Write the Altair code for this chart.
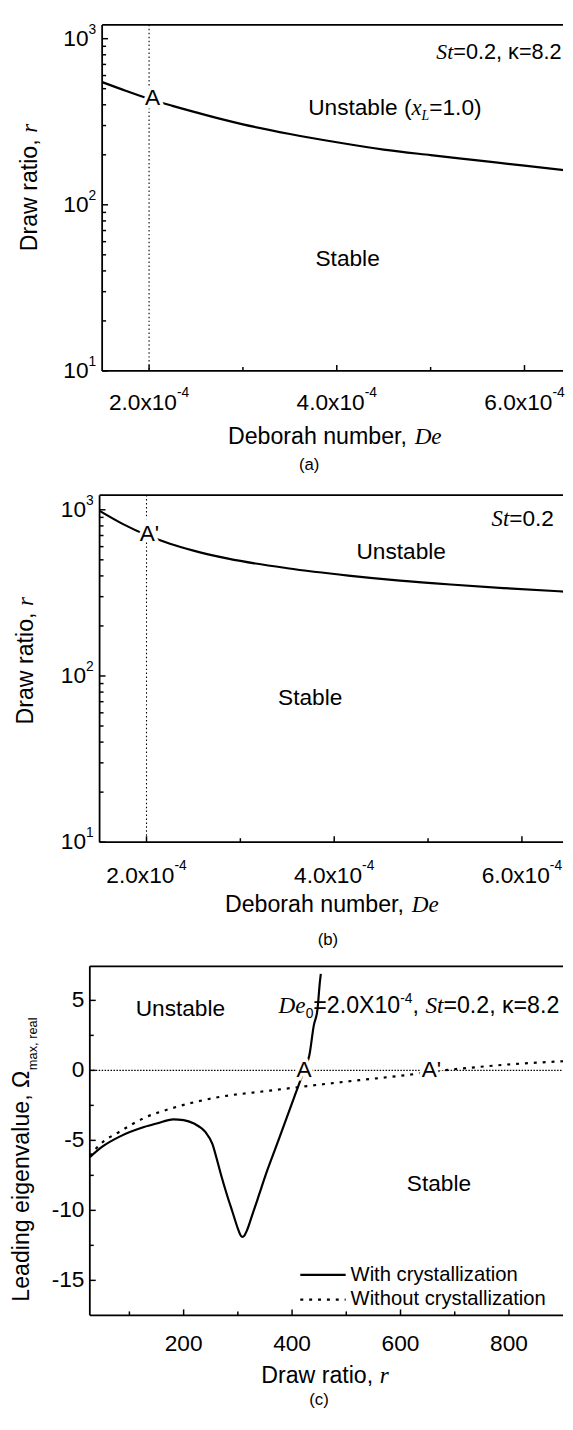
import altair as alt
import pandas as pd

SANS = "Liberation Sans"
SERIF = "Liberation Serif"
FS = 23      # tick labels / in-plot text
FT = 23.5    # axis titles

# ---------------- data ----------------
# (a) neutral stability curve, with crystallization
de_a = [1.50e-4, 1.75e-4, 2.00e-4, 2.25e-4, 2.50e-4, 2.75e-4, 3.00e-4, 3.50e-4,
        4.00e-4, 4.50e-4, 5.00e-4, 5.50e-4, 6.00e-4, 6.45e-4]
r_a = [548, 486, 434, 394, 360, 330, 305, 267, 238, 215, 199, 185, 172, 161]
# (b) neutral stability curve, without crystallization
de_b = [1.50e-4, 1.75e-4, 2.00e-4, 2.25e-4, 2.50e-4, 2.87e-4, 3.50e-4, 4.15e-4,
        4.70e-4, 5.24e-4, 5.80e-4, 6.45e-4]
r_b = [985, 820, 705, 625, 568, 508, 445, 402, 375, 355, 338, 322]
# (c) leading eigenvalue vs draw ratio
r_with = [27, 50, 81, 127, 150, 181, 200, 219, 240, 253, 263, 270, 280, 290, 300,
          304, 308, 312, 316, 326, 339, 351, 370, 390, 405, 422, 432, 440, 447, 451, 453]
om_with = [-6.2, -5.45, -4.75, -4.05, -3.8, -3.5, -3.55, -3.8, -4.4, -5.25, -6.6, -7.6,
           -8.9, -10.1, -11.3, -11.7, -11.9, -11.8, -11.5, -10.4, -8.9, -7.5, -5.5, -3.4,
           -1.8, 0.0, 1.1, 3.2, 4.4, 6.2, 6.9]
r_without = [27, 50, 81, 127, 179, 259, 359, 422, 524, 592, 650, 691, 724, 791, 850, 900]
om_without = [-6.1, -5.15, -4.4, -3.4, -2.7, -1.95, -1.45, -1.15, -0.7, -0.42, -0.15,
              0.05, 0.17, 0.4, 0.55, 0.65]

# ticks and labels
de_major = [2e-4, 4e-4, 6e-4]
de_major_lab = ["2.0x10", "4.0x10", "6.0x10"]
de_exp = "-4"
de_minor = [3e-4, 5e-4]
r_major = [10, 100, 1000]
r_major_lab = ["10", "10", "10"]
r_exp = ["1", "2", "3"]
r_minor = [20, 30, 40, 50, 60, 70, 80, 90, 200, 300, 400, 500, 600, 700, 800, 900]
c_x_major = [200, 400, 600, 800]
c_x_lab = ["200", "400", "600", "800"]
c_x_minor = [100, 300, 500, 700]
c_y_major = [-15, -10, -5, 0, 5]
c_y_lab = ["-15", "-10", "-5", "0", "5"]
c_y_minor = [-12.5, -7.5, -2.5, 2.5]
legend_labels = ["With crystallization", "Without crystallization"]

# ---------------- layout ----------------
PX0 = 91.5          # page x of plot-area left edge
W = 480
GAP = 126
HA, HB, HC = 351, 352, 354
TOP_A = 15
TOP_B = TOP_A + HA + GAP
TOP_C = TOP_B + HB + GAP
KA = 952000.0       # px per unit of De
XA = [1.5e-4 - (104 - PX0) / KA, 0]
XA[1] = XA[0] + W / KA
XB = [2e-4 - (149 - PX0) / KA, 0]
XB[1] = XB[0] + W / KA
AX_DE = 1.5e-4
YA = [10, 1211]
YB = [10, 1225]
XC = [27, 27 + W / 0.55]
YC = [-17.5, -17.5 + HC / 14.2]

ONE = pd.DataFrame({"d": [0]})

ARIAL = {' ': 278, '(': 333, ')': 333, ',': 278, '-': 333, '.': 278, '=': 584, 'X': 667,
         'x': 500, 'A': 667, 'D': 722, 'L': 556, 'S': 667, 'U': 722, 'W': 944, "'": 191,
         'a': 556, 'b': 556, 'c': 500, 'd': 556, 'e': 556, 'g': 556, 'h': 556, 'i': 222,
         'l': 222, 'm': 833, 'n': 556, 'o': 556, 'r': 333, 's': 500, 't': 278, 'u': 556,
         'v': 500, 'w': 722, 'y': 500, 'z': 500, 'κ': 500, 'Ω': 768}
for _d in "0123456789":
    ARIAL[_d] = 556
TIMES_I = {'D': 722, 'e': 444, 'S': 500, 't': 278, 'r': 389, 'x': 444, 'L': 556}


def tw(s, font, size):
    tab = TIMES_I if font == SERIF else ARIAL
    return sum(tab.get(c, 556) for c in s) * size / 1000.0


def text_px(s, x, y, size=FS, font=SANS, italic=False, align="left",
            baseline="alphabetic", angle=0, clip=False):
    kw = dict(text=s, font=font, fontSize=size, align=align, baseline=baseline,
              color="black")
    if italic:
        kw["fontStyle"] = "italic"
    if angle:
        kw["angle"] = angle
    if clip:
        kw["clip"] = True
    return alt.Chart(ONE).mark_text(**kw).encode(x=alt.value(x), y=alt.value(y))


def chain_h(pieces, x_page, y_page, top, center=False, clip=False):
    total = sum(tw(p[0], p[1], p[3]) for p in pieces)
    x = x_page - (total / 2 if center else 0)
    out = []
    for s, font, italic, size, dy in pieces:
        out.append(text_px(s.rstrip(), x - PX0, y_page - top + dy, size, font, italic,
                           clip=clip))
        x += tw(s, font, size)
    return out


def chain_v(pieces, x_page, yc_page, top):
    total = sum(tw(p[0], p[1], p[3]) for p in pieces)
    y = yc_page + total / 2
    out = []
    for s, font, italic, size, dx in pieces:
        out.append(text_px(s.rstrip(), x_page - PX0 + dx, y - top, size, font, italic,
                           angle=270))
        y -= tw(s, font, size)
    return out


def rule_px(x, y, x2=None, y2=None, width=1.8, dash=None, opacity=1.0):
    enc = dict(x=alt.value(x), y=alt.value(y))
    if x2 is not None:
        enc["x2"] = alt.value(x2)
    if y2 is not None:
        enc["y2"] = alt.value(y2)
    kw = dict(color="black", strokeWidth=width, opacity=opacity)
    if dash:
        kw["strokeDash"] = dash
    return alt.Chart(ONE).mark_rule(**kw).encode(**enc)


def halo_text(s, xv, yv, X, Y, size=FS):
    df = pd.DataFrame({"x": [xv], "y": [yv]})
    base = dict(text=s, font=SANS, fontSize=size, align="center", baseline="middle")
    h = alt.Chart(df).mark_text(color="white", stroke="white", strokeWidth=7,
                                **base).encode(x=X("x"), y=Y("y"))
    t = alt.Chart(df).mark_text(color="black", **base).encode(x=X("x"), y=Y("y"))
    return [h, t]


def log_panel(de, r, xdom, ydom, H, xlab_base):
    xs = alt.Scale(domain=xdom, nice=False, zero=False)
    ys = alt.Scale(type="log", domain=ydom, nice=False)

    def X(f):
        return alt.X(f, type="quantitative", scale=xs, axis=None)

    def Y(f):
        return alt.Y(f, type="quantitative", scale=ys, axis=None)

    ax = (AX_DE - xdom[0]) * KA
    L = []
    L.append(alt.Chart(pd.DataFrame({"De": de, "r": r})).mark_line(
        color="black", strokeWidth=2.2, clip=True, interpolate="monotone").encode(
        x=X("De"), y=Y("r")))
    L.append(alt.Chart(pd.DataFrame({"De": [2e-4]})).mark_rule(
        color="black", strokeWidth=1.1, strokeDash=[1.5, 2.5]).encode(
        x=X("De"), y=alt.value(0), y2=alt.value(H)))
    # frame
    L.append(rule_px(ax, 0, y2=H))
    L.append(rule_px(ax, H, x2=W))
    L.append(rule_px(ax, 0, x2=W))
    # ticks (inward)
    L.append(alt.Chart(pd.DataFrame({"v": de_major})).mark_rule(
        color="black", strokeWidth=1.5).encode(x=X("v"), y=alt.value(H), y2=alt.value(H - 6)))
    L.append(alt.Chart(pd.DataFrame({"v": de_minor})).mark_rule(
        color="black", strokeWidth=1.5).encode(x=X("v"), y=alt.value(H), y2=alt.value(H - 4)))
    L.append(alt.Chart(pd.DataFrame({"v": r_major})).mark_rule(
        color="black", strokeWidth=1.5).encode(y=Y("v"), x=alt.value(ax), x2=alt.value(ax + 6)))
    L.append(alt.Chart(pd.DataFrame({"v": r_minor})).mark_rule(
        color="black", strokeWidth=1.5).encode(y=Y("v"), x=alt.value(ax), x2=alt.value(ax + 4)))
    # x tick labels  (mantissa + superscript exponent)
    wm = tw(de_major_lab[0], SANS, FS)
    we = tw(de_exp, SANS, 14)
    T = wm + we
    dfl = pd.DataFrame({"v": de_major, "lab": de_major_lab, "e": [de_exp] * 3})
    L.append(alt.Chart(dfl).mark_text(font=SANS, fontSize=FS, align="left", dx=-T / 2,
                                      color="black").encode(
        x=X("v"), y=alt.value(H + xlab_base), text="lab:N"))
    L.append(alt.Chart(dfl).mark_text(font=SANS, fontSize=14, align="left",
                                      dx=-T / 2 + wm, color="black").encode(
        x=X("v"), y=alt.value(H + xlab_base - 10), text="e:N"))
    # y tick labels
    dfy = pd.DataFrame({"v": r_major, "lab": r_major_lab, "e": r_exp})
    wsup = tw("1", SANS, 14)
    L.append(alt.Chart(dfy).mark_text(font=SANS, fontSize=FS, align="right",
                                      baseline="middle", color="black").encode(
        y=Y("v"), x=alt.value(ax - 6 - wsup), text="lab:N"))
    L.append(alt.Chart(dfy).mark_text(font=SANS, fontSize=14, align="right",
                                      baseline="middle", dy=-9, color="black").encode(
        y=Y("v"), x=alt.value(ax - 6), text="e:N"))
    return L, X, Y


# ---------------- panel (a) ----------------
LA, XAe, YAe = log_panel(de_a, r_a, XA, YA, HA, 32.5)
LA.append(rule_px(8 - PX0 + 0.5, 8 - TOP_A + 0.5, x2=8 - PX0 + 1.5, width=1, opacity=0))
LA += halo_text("A", 2.036e-4, 440, XAe, YAe)
LA += chain_v([("Draw ratio, ", SANS, False, FT, 0), ("r", SERIF, True, FT, 0)], 38, 180, TOP_A)
LA += chain_h([("Deborah number, ", SANS, False, FT, 0), ("De", SERIF, True, FT, 0)],
              340, 440, TOP_A, center=True)
LA += chain_h([("St", SERIF, True, 22, 0), ("=0.2, κ=8.2", SANS, False, 22, 0)],
              443, 50, TOP_A)
LA += chain_h([("Unstable (", SANS, False, FS, 0), ("x", SERIF, True, FS, 0),
               ("L", SERIF, True, 14, 5), ("=1.0)", SANS, False, FS, 0)], 313, 106, TOP_A)
LA.append(text_px("Stable", 353 - PX0, 260 - TOP_A, align="center"))
LA.append(text_px("(a)", 314 - PX0, 462 - TOP_A, size=17, align="center", baseline="middle"))
panel_a = alt.layer(*LA).properties(width=W, height=HA)

# ---------------- panel (b) ----------------
LB, XBe, YBe = log_panel(de_b, r_b, XB, YB, HB, 34.5)
LB += halo_text("A'", 2.031e-4, 709, XBe, YBe)
LB += chain_v([("Draw ratio, ", SANS, False, FT, 0), ("r", SERIF, True, FT, 0)], 34, 660, TOP_B)
LB += chain_h([("Deborah number, ", SANS, False, FT, 0), ("De", SERIF, True, FT, 0)],
              337, 915, TOP_B, center=True)
LB += chain_h([("St", SERIF, True, FS, 0), ("=0.2", SANS, False, FS, 0)], 499, 523, TOP_B)
LB.append(text_px("Unstable", 362 - PX0, 557 - TOP_B))
LB.append(text_px("Stable", 315 - PX0, 705 - TOP_B, align="center"))
LB.append(text_px("(b)", 333 - PX0, 943 - TOP_B, size=17, align="center", baseline="middle"))
panel_b = alt.layer(*LB).properties(width=W, height=HB)

# ---------------- panel (c) ----------------
xs_c = alt.Scale(domain=XC, nice=False, zero=False)
ys_c = alt.Scale(domain=YC, nice=False, zero=False)


def XCn(f):
    return alt.X(f, type="quantitative", scale=xs_c, axis=None)


def YCn(f):
    return alt.Y(f, type="quantitative", scale=ys_c, axis=None)


LC = []
LC.append(alt.Chart(pd.DataFrame({"r": r_with, "om": om_with})).mark_line(
    color="black", strokeWidth=2.2, clip=True, interpolate="monotone").encode(
    x=XCn("r"), y=YCn("om")))
LC.append(alt.Chart(pd.DataFrame({"r": r_without, "om": om_without})).mark_line(
    color="black", strokeWidth=2.2, strokeDash=[3, 6], clip=True,
    interpolate="monotone").encode(x=XCn("r"), y=YCn("om")))
LC.append(alt.Chart(pd.DataFrame({"v": [0]})).mark_rule(
    color="black", strokeWidth=1.1, strokeDash=[1.5, 1.5]).encode(
    y=YCn("v"), x=alt.value(0), x2=alt.value(W)))
LC.append(rule_px(0, 0, y2=HC))
LC.append(rule_px(0, HC, x2=W))
LC.append(rule_px(0, 0, x2=W))
LC.append(alt.Chart(pd.DataFrame({"v": c_x_major})).mark_rule(
    color="black", strokeWidth=1.5).encode(x=XCn("v"), y=alt.value(HC), y2=alt.value(HC - 6)))
LC.append(alt.Chart(pd.DataFrame({"v": c_x_minor})).mark_rule(
    color="black", strokeWidth=1.5).encode(x=XCn("v"), y=alt.value(HC), y2=alt.value(HC - 4)))
LC.append(alt.Chart(pd.DataFrame({"v": c_y_major})).mark_rule(
    color="black", strokeWidth=1.5).encode(y=YCn("v"), x=alt.value(0), x2=alt.value(6)))
LC.append(alt.Chart(pd.DataFrame({"v": c_y_minor})).mark_rule(
    color="black", strokeWidth=1.5).encode(y=YCn("v"), x=alt.value(0), x2=alt.value(4)))
# tick labels
LC.append(alt.Chart(pd.DataFrame({"v": c_x_major, "lab": c_x_lab})).mark_text(
    font=SANS, fontSize=FS, align="center", color="black").encode(
    x=XCn("v"), y=alt.value(HC + 29.5), text="lab:N"))
LC.append(alt.Chart(pd.DataFrame({"v": c_y_major, "lab": c_y_lab})).mark_text(
    font=SANS, fontSize=FS, align="right", baseline="middle", color="black").encode(
    y=YCn("v"), x=alt.value(-5.5), text="lab:N"))
LC += halo_text("A", 422, 0, XCn, YCn)
LC += halo_text("A'", 657, 0, XCn, YCn)
LC += chain_v([("Leading eigenvalue, Ω", SANS, False, FT, 0), ("max, real", SANS, False, 13, 8)],
              30, 1166, TOP_C)
LC += chain_h([("Draw ratio, ", SANS, False, FT, 0), ("r", SERIF, True, FT, 0)],
              330, 1393, TOP_C, center=True)
LC.append(text_px("Unstable", 138 - PX0, 1020 - TOP_C))
LC += chain_h([("De", SERIF, True, 23.5, 0), ("0", SANS, False, 14, 5),
               ("=2.0X10", SANS, False, 23.5, 0), ("-4", SANS, False, 14, -10),
               (", ", SANS, False, 23.5, 0), ("St", SERIF, True, 23.5, 0),
               ("=0.2, κ=8.2", SANS, False, 23.5, 0)], 283, 1017, TOP_C)
LC.append(text_px("Stable", 413 - PX0, 1198 - TOP_C))
# legend
LC.append(rule_px(305 - PX0, 1283 - TOP_C, x2=351 - PX0, width=2.2))
LC.append(rule_px(305 - PX0, 1308 - TOP_C, x2=351 - PX0, width=2.2, dash=[3, 6]))
LC.append(text_px(legend_labels[0], 356 - PX0, 1283 - TOP_C, size=20.5, baseline="middle"))
LC.append(text_px(legend_labels[1], 356 - PX0, 1308 - TOP_C, size=20.5, baseline="middle"))
LC.append(text_px("(c)", 324 - PX0, 1410 - TOP_C, size=17, align="center", baseline="middle"))
panel_c = alt.layer(*LC).properties(width=W, height=HC)

chart = alt.vconcat(panel_a, panel_b, panel_c, spacing=GAP, bounds="flush",
                    padding=0).configure_view(stroke=None)

chart.save("out.html", embed_options={"renderer": "svg", "actions": False})
